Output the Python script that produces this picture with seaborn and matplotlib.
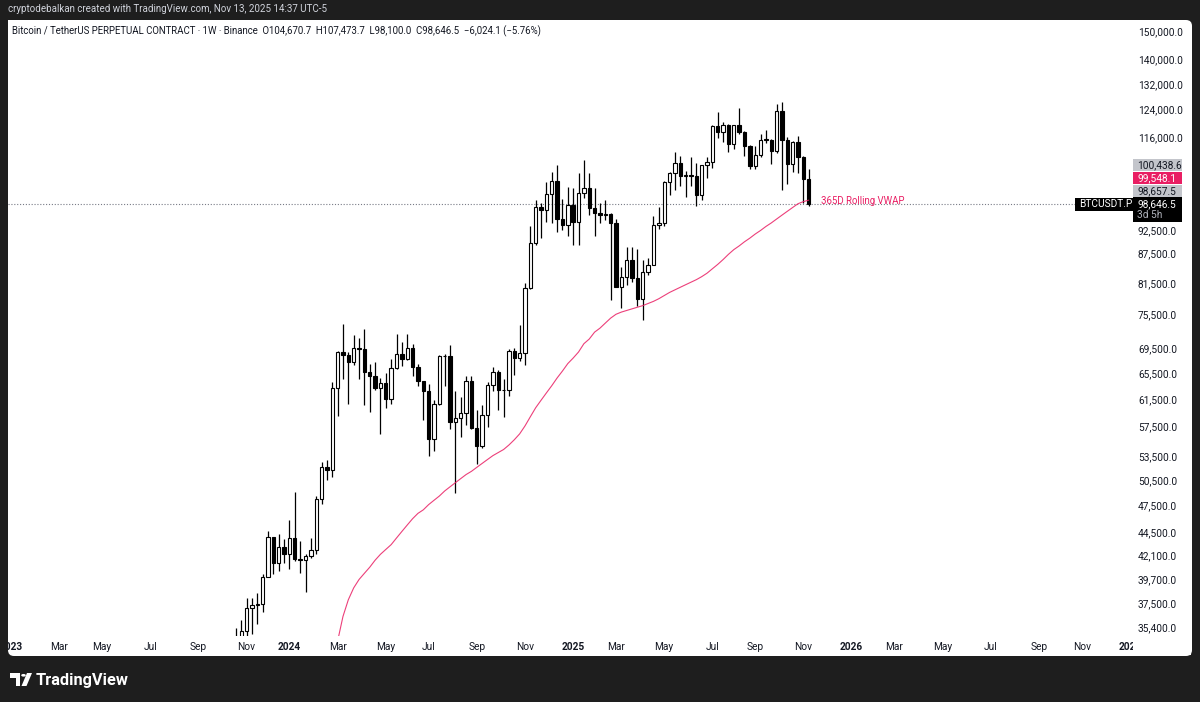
import numpy as np
import pandas as pd
import matplotlib
matplotlib.use("Agg")
import matplotlib.pyplot as plt
import matplotlib.dates as mdates
from matplotlib.ticker import FixedLocator, NullLocator, FixedFormatter
from matplotlib.patches import FancyBboxPatch, Rectangle, Polygon, Circle
import seaborn as sns

# ---------------- data ----------------
first_week = "2023-10-23"   # weekly candles (Mondays)
opens = [29990, 34500, 35010, 37050, 37350, 37450, 39970, 43980, 41350, 43000,
         42280, 43930, 41730, 41580, 42030, 42600, 48300, 52120, 51730, 63110,
         68950, 68390, 67210, 69650, 69360, 65660, 64940, 63120, 63890, 61480,
         66270, 68510, 67760, 69650, 66490, 64250, 62680, 55850, 60800, 68170,
         68250, 58160, 58710, 59450, 64220, 57300, 54850, 59150, 63550, 65600,
         62800, 62850, 69000, 67950, 68750, 80400, 89800, 97900, 97200, 101100,
         104300, 95100, 93700, 98300, 94500, 101300, 102600, 97700, 96500, 96100,
         96300, 94250, 80700, 82600, 86100, 82400, 78400, 83700, 85150, 93700,
         94300, 104100, 106400, 109000, 105600, 105700, 105500, 100900, 108300, 109200,
         119100, 117300, 119400, 114200, 119300, 117400, 113500, 108200, 111100, 115300,
         115250, 112200, 123500, 115100, 108600, 114500, 110500, 104670.7]
highs = [35280, 35980, 38000, 37980, 38420, 40250, 44700, 43990, 44300, 43800,
         45900, 49050, 43600, 42200, 43880, 48600, 52820, 52980, 64000, 69000,
         73780, 68920, 71770, 71340, 72800, 66870, 67230, 64730, 65500, 67700,
         71950, 70600, 71950, 70200, 67000, 64300, 63800, 61400, 68370, 68500,
         70080, 62750, 61800, 65000, 64980, 59800, 60650, 64100, 66500, 66000,
         64500, 69400, 69500, 73600, 81500, 93450, 99600, 98800, 104000, 106500,
         108350, 99900, 102700, 102500, 106400, 109600, 106400, 102500, 98800, 99500,
         96500, 95000, 84700, 88800, 88800, 88500, 86100, 86500, 95800, 97900,
         104300, 106700, 112000, 110700, 106800, 110500, 108900, 108500, 110500, 119500,
         123200, 120200, 119800, 119300, 124500, 117600, 113800, 113400, 116800, 117900,
         115400, 125700, 126200, 116000, 114800, 116400, 110900, 107473.7]
lows = [29660, 33900, 34520, 34800, 35630, 36700, 39970, 40200, 40500, 41300,
        40750, 41500, 40300, 38550, 41800, 42260, 47700, 50520, 50900, 59000,
        64550, 60780, 66800, 64500, 60660, 59600, 62790, 56550, 60190, 60750,
        66060, 66600, 67600, 65080, 63380, 58400, 53490, 54260, 60660, 63400,
        57120, 49000, 56080, 57800, 57200, 52550, 54550, 57500, 62650, 59830,
        58900, 62000, 65100, 67450, 66800, 80200, 89400, 90800, 94500, 94200,
        92200, 92500, 91200, 89250, 89300, 100100, 96150, 91200, 94100, 94800,
        78200, 81400, 76600, 81100, 81600, 77100, 74500, 83100, 85100, 92800,
        93400, 100700, 102000, 103100, 100400, 103000, 98200, 99600, 105100, 107500,
        115700, 114700, 112000, 112600, 116800, 110700, 107300, 107300, 110600, 114400,
        108600, 111600, 102000, 103500, 106700, 106300, 98900, 98100.0]
closes = [34500, 35010, 37050, 37350, 37450, 39970, 43980, 41350, 43000, 42280,
          43930, 41730, 41580, 42030, 42600, 48300, 52120, 51730, 63110, 68950,
          68390, 67210, 69650, 69360, 65660, 64940, 63120, 63890, 61480, 66270,
          68510, 67760, 69650, 66490, 64250, 62680, 55850, 60800, 68170, 68250,
          58160, 58710, 59450, 64220, 57300, 54850, 59150, 63550, 65600, 62800,
          62850, 69000, 67950, 68750, 80400, 89800, 97900, 97200, 101100, 104300,
          95100, 93700, 98300, 94500, 101300, 102600, 97700, 96500, 96100, 96300,
          94250, 80700, 82600, 86100, 82400, 78400, 83700, 85150, 93700, 94300,
          104100, 106400, 109000, 105600, 105700, 105500, 100900, 108300, 109200, 119100,
          117300, 119400, 114200, 119300, 117400, 113500, 108200, 111100, 115300, 115250,
          112200, 123500, 115100, 108600, 114500, 110500, 104670.7, 98646.5]

vwap_first_week = "2024-03-04"   # 365D rolling VWAP, weekly readings
vwap = [34200, 36300, 37800, 38900, 39700, 40300, 40900, 41600, 42200, 42700,
        43200, 43900, 44600, 45300, 46000, 46600, 47000, 47600, 48100, 48600,
        49200, 49700, 50200, 50700, 51200, 51600, 52100, 52600, 53100, 53600,
        54000, 54400, 55000, 55700, 56500, 57600, 58900, 60200, 61300, 62400,
        63500, 64700, 65800, 67000, 67900, 68900, 70300, 71100, 72300, 73000,
        73900, 74800, 75500, 75900, 76200, 76500, 76800, 77100, 77500, 77900,
        78400, 79000, 79600, 80100, 80600, 81100, 81600, 82100, 82700, 83400,
        84300, 85200, 86200, 87300, 88300, 89100, 90000, 90800, 91700, 92500,
        93400, 94200, 95100, 96000, 96900, 97800, 98700, 99200, 99548.1]

price_ticks = [150000, 140000, 132000, 124000, 116000, 92500, 87500, 81500,
               75500, 69500, 65500, 61500, 57500, 53500, 50500, 47500, 44500,
               42100, 39700, 37500, 35400]
tick_months = [1, 3, 5, 7, 9, 11]
month_names = {1: "", 3: "Mar", 5: "May", 7: "Jul", 9: "Sep", 11: "Nov"}
tick_years = [2023, 2024, 2025, 2026, 2027]

last_price = 98646.5
stack_tags = [("98,657.5", "#c3c5cb", "#131722"),
              ("99,548.1", "#e91e63", "white"),
              ("100,438.6", "#c3c5cb", "#131722")]

header = ("Bitcoin / TetherUS PERPETUAL CONTRACT · 1W · Binance  O104,670.7  "
          "H107,473.7  L98,100.0  C98,646.5  −6,024.1 (−5.76%)")
credit = "cryptodebalkan created with TradingView.com, Nov 13, 2025 14:37 UTC-5"

# ---------------- style ----------------
sns.set_theme(style="white")
plt.rcParams["font.family"] = ["Roboto", "DejaVu Sans"]
TXT = "#131722"
FS = 7.3

W, H = 1200, 702
fig = plt.figure(figsize=(12, 7.02), dpi=100)
fig.patch.set_facecolor("#1e1e1e")

def fx(px):
    return px / W

def fy(py):
    return 1 - py / H

panel = FancyBboxPatch((fx(8), fy(656)), fx(1192) - fx(8), fy(20) - fy(656),
                       boxstyle="round,pad=0,rounding_size=0.005",
                       mutation_aspect=W / H,
                       transform=fig.transFigure, fc="white", ec="none", zorder=-5)
fig.add_artist(panel)

ax = fig.add_axes([fx(8), fy(636), fx(1133) - fx(8), fy(20) - fy(636)])
ax.set_facecolor("white")
for s in ax.spines.values():
    s.set_visible(False)

dates = pd.date_range(first_week, periods=len(closes), freq="7D")
d = mdates.date2num(dates.to_pydatetime())
o = np.array(opens, float)
h = np.array(highs, float)
l = np.array(lows, float)
c = np.array(closes, float)
up = c >= o
lo_b = np.minimum(o, c)
hi_b = np.maximum(o, c)
hgt = np.maximum(hi_b - lo_b, lo_b * 0.0006)

ax.set_yscale("log")
ax.vlines(d, l, h, color="black", lw=0.9, zorder=2)
ax.bar(d[up], hgt[up], bottom=lo_b[up], width=4.4, color="white",
       edgecolor="black", linewidth=0.8, zorder=3)
ax.bar(d[~up], hgt[~up], bottom=lo_b[~up], width=4.4, color="black",
       edgecolor="black", linewidth=0.8, zorder=3)

vdates = pd.date_range(vwap_first_week, periods=len(vwap), freq="7D")
vd = mdates.date2num(vdates.to_pydatetime())
sns.lineplot(x=vd, y=vwap, ax=ax, color="#e91e63", lw=0.8, alpha=0.85, zorder=4)
ax.set_xlabel("")
ax.set_ylabel("")

x0 = mdates.date2num(pd.Timestamp("2022-12-29").to_pydatetime())
x1 = mdates.date2num(pd.Timestamp("2027-01-08").to_pydatetime())
ax.set_xlim(x0, x1)
ax.set_ylim(34620, 154050)

# price axis
ax.yaxis.tick_right()
ax.yaxis.set_major_locator(FixedLocator(price_ticks))
ax.yaxis.set_major_formatter(FixedFormatter([f"{v:,.1f}" for v in price_ticks]))
ax.yaxis.set_minor_locator(NullLocator())
ax.tick_params(axis="y", length=0, pad=3.6, labelsize=FS, labelcolor=TXT)

# time axis (first Monday of each labelled month)
tpos, tlab = [], []
for yr in tick_years:
    for m in tick_months:
        t = pd.Timestamp(year=yr, month=m, day=1)
        t = t + pd.Timedelta(days=(7 - t.weekday()) % 7)
        tn = mdates.date2num(t.to_pydatetime())
        if x0 <= tn <= x1:
            tpos.append(tn)
            tlab.append(str(yr) if m == 1 else month_names[m])
ax.set_xticks(tpos)
ax.set_xticklabels(tlab)
ax.xaxis.set_minor_locator(NullLocator())
ax.tick_params(axis="x", length=0, pad=4.0, labelsize=FS, labelcolor=TXT)
for lab in ax.get_xticklabels():
    if lab.get_text().isdigit():
        lab.set_fontweight("bold")

# mask the clipped ends of the time axis
fig.add_artist(Rectangle((0, fy(656)), fx(8), fy(636) - fy(656), transform=fig.transFigure,
                         fc="#1e1e1e", ec="none", zorder=20))
fig.add_artist(Rectangle((fx(1133), fy(655)), fx(1191) - fx(1133), fy(637) - fy(655),
                         transform=fig.transFigure, fc="white", ec="none", zorder=20))

# current price dotted line
ax.axhline(last_price, xmin=0, xmax=(1075 - 8) / 1125, color="#787b86",
           lw=0.8, linestyle=(0, (1, 1.6)), zorder=1)

ax.annotate("365D Rolling VWAP", xy=(vd[-1], vwap[-1]), xytext=(8.5, -0.5),
            textcoords="offset points", color="#e91e63", fontsize=6.9,
            va="center", ha="left")

# header texts
fig.text(fx(12), fy(31), header, color=TXT, fontsize=6.95, va="center", ha="left")
fig.text(fx(8), fy(9.5), credit, color="#d1d4dc", fontsize=7.0, va="center", ha="left")

# price tags
fig.canvas.draw()
yc = ax.transData.transform((x0, last_price))[1]  # display px, bottom origin

def box(xa, xb, ya, yb, fc):
    fig.add_artist(Rectangle((xa / W, ya / H), (xb - xa) / W, (yb - ya) / H,
                             transform=fig.transFigure, fc=fc, ec="none", zorder=10))

box(1133, 1182, yc - 18, yc + 7, "black")
fig.text(1137 / W, yc / H, "98,646.5", color="white", fontsize=FS, va="center", zorder=11)
fig.text(1137 / W, (yc - 11) / H, "3d 5h", color="#b2b5be", fontsize=FS, va="center", zorder=11)
for i, (txt, fc, tc) in enumerate(stack_tags):
    ycen = yc + 13 * (i + 1)
    box(1133, 1182, ycen - 6.3, ycen + 6.3, fc)
    fig.text(1137 / W, ycen / H, txt, color=tc, fontsize=FS, va="center", zorder=11)
box(1075, 1133, yc - 7, yc + 6, "black")
fig.text(1079 / W, yc / H - 0.0005, "BTCUSDT.P", color="white", fontsize=FS, va="center", zorder=11)

# TradingView logo
def P(x, y):
    return (fx(x), fy(y))
fig.add_artist(Polygon([P(10, 673), P(20, 673), P(20, 686), P(15.5, 686), P(15.5, 677.5), P(10, 677.5)],
                       closed=True, transform=fig.transFigure, fc="white", ec="none"))
fig.add_artist(Circle(P(23.5, 675.3), 2.3 / W, transform=fig.transFigure, fc="white", ec="none"))
fig.add_artist(Polygon([P(27, 673), P(32, 673), P(26.5, 686), P(21.5, 686)],
                       closed=True, transform=fig.transFigure, fc="white", ec="none"))
fig.text(fx(36), fy(680), "TradingView", color="white", fontsize=11.8, fontweight="bold",
         va="center", ha="left")

fig.savefig("out.png", dpi=100, facecolor=fig.get_facecolor())
